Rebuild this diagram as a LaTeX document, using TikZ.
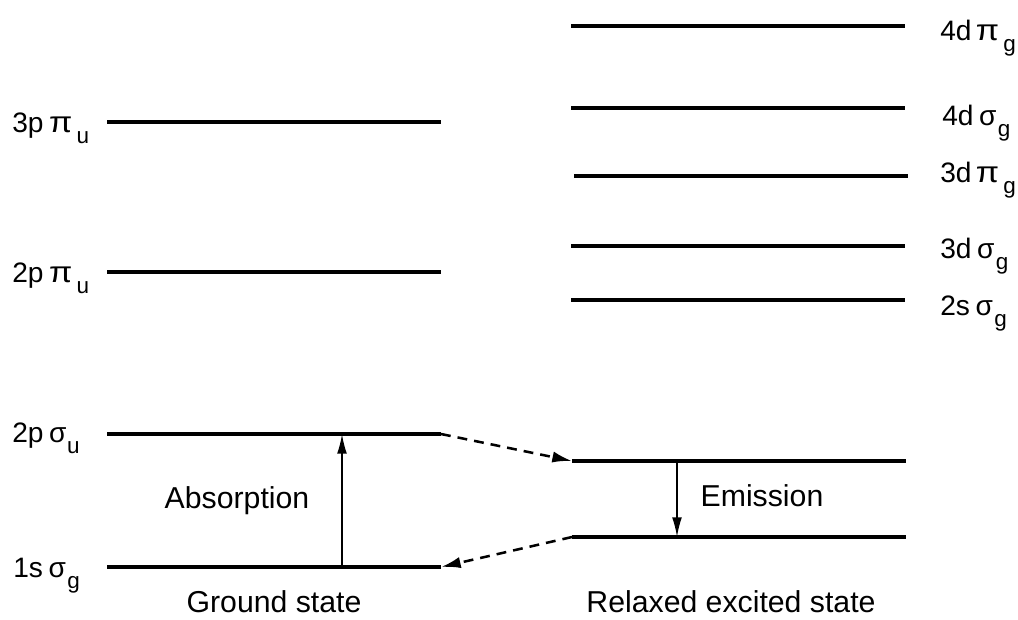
\documentclass[tikz,border=0pt]{standalone}
\usepackage{fontspec}
\setmainfont{Liberation Sans}
\usetikzlibrary{arrows.meta}
\newcommand\lsub[1]{\raisebox{-0.4em}{\fontsize{16}{16}\selectfont #1}}
\newcommand\bigpi{\scalebox{1.2}[1.05]{π}}
\begin{document}
\begin{tikzpicture}[x=0.025cm,y=-0.025cm,
  level/.style={line width=2.3pt},
  trans/.style={line width=1.2pt,-{Latex[length=14pt,width=7pt]}},
  relax/.style={line width=1.8pt,dash pattern=on 7pt off 5pt,-{Latex[length=14pt,width=8pt]}},
  lab/.style={font=\fontsize{20}{22}\selectfont,anchor=base west,inner sep=0pt},
  txt/.style={font=\fontsize{21.5}{24}\selectfont,anchor=base,inner sep=0pt}]
\useasboundingbox (0,0) rectangle (1018,619);
% ground state levels
\coordinate (g1l) at (107,567); \coordinate (g1r) at (441,567);
\coordinate (g2l) at (107,434); \coordinate (g2r) at (441,434);
\coordinate (g3l) at (107,272); \coordinate (g3r) at (441,272);
\coordinate (g4l) at (107,122); \coordinate (g4r) at (441,122);
% relaxed excited state levels
\coordinate (e1l) at (572,537); \coordinate (e1r) at (906,537);
\coordinate (e2l) at (572,461); \coordinate (e2r) at (906,461);
\coordinate (e3l) at (571,300); \coordinate (e3r) at (905,300);
\coordinate (e4l) at (571,246); \coordinate (e4r) at (905,246);
\coordinate (e5l) at (574,176); \coordinate (e5r) at (908,176);
\coordinate (e6l) at (571,108); \coordinate (e6r) at (905,108);
\coordinate (e7l) at (571,26);  \coordinate (e7r) at (905,26);
\foreach \n in {g1,g2,g3,g4,e1,e2,e3,e4,e5,e6,e7}
  \draw[level] (\n l) -- (\n r);
% labels left
\node[lab] (l4) at (12,132) {3p\kern4pt\bigpi\kern3pt\lsub{u}};
\node[lab] (l3) at (12,282) {2p\kern4pt\bigpi\kern3pt\lsub{u}};
\node[lab] (l2) at (12,442) {2p\kern4pt σ\kern0.5pt\lsub{u}};
\node[lab] (l1) at (13,577) {1s\kern4pt σ\kern1pt\lsub{g}};
% labels right
\node[lab] (r7) at (940,40)  {4d\kern3pt\bigpi\kern3pt\lsub{g}};
\node[lab] (r6) at (942,125) {4d\kern4pt σ\kern1pt\lsub{g}};
\node[lab] (r5) at (940,182) {3d\kern3pt\bigpi\kern3pt\lsub{g}};
\node[lab] (r4) at (940,258) {3d\kern4pt σ\kern1pt\lsub{g}};
\node[lab] (r3) at (940,315) {2s\kern4pt σ\kern1pt\lsub{g}};
% transitions
\coordinate (abot) at (342,567); \coordinate (atop) at (342,434);
\draw[trans] (abot) -- (atop);
\coordinate (etop) at (677,461); \coordinate (ebot) at (677,537);
\draw[trans] (etop) -- (ebot);
\node[txt] (abs) at (237,508) {Absorption};
\node[txt] (emi) at (762,506) {Emission};
% relaxation
\draw[relax] (g2r) -- (e2l);
\draw[relax] (e1l) -- (g1r);
% state captions
\node[txt] (gs) at (274,612) {Ground state};
\node[txt] (rs) at (731,612) {Relaxed excited state};
\end{tikzpicture}
\end{document}
